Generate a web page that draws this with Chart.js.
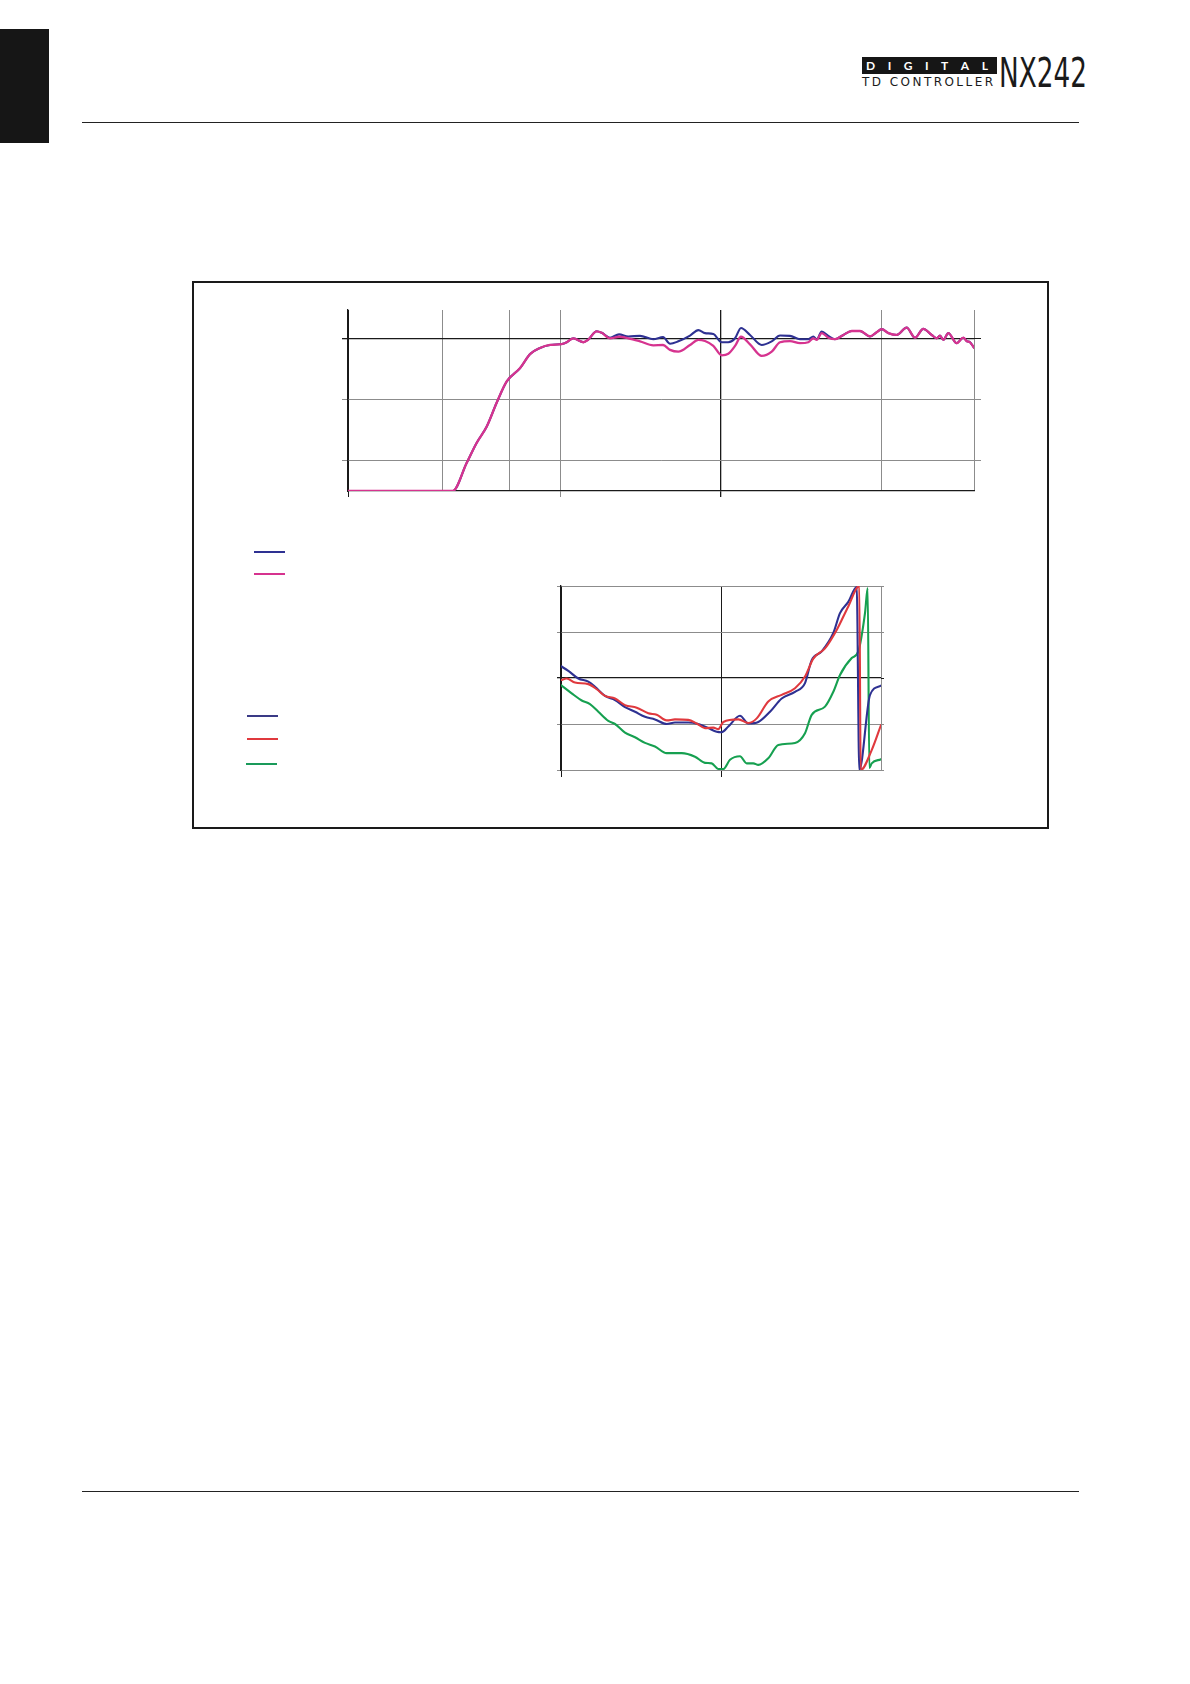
<!DOCTYPE html>
<html>
<head>
<meta charset="utf-8">
<script src="https://cdn.jsdelivr.net/npm/chart.js@4.4.0/dist/chart.umd.min.js"></script>
<style>
  body { margin: 0; background: #fff; }
  #page { position: relative; width: 1190px; height: 1684px; overflow: hidden; background: #fff; }
  .abs { position: absolute; }
  #digital { display: flex; justify-content: space-between; align-items: center; box-sizing: border-box;
             padding: 0 9px 0 4px; background: #161616; color: #fff;
             font: bold 12px/12px Lato, "DejaVu Sans", sans-serif; }
  #tdc { font: 12px/12px "DejaVu Sans", sans-serif; color: #1a1a1a; white-space: nowrap; }
  #nx { font: 40px/40px "Liberation Sans Narrow", "DejaVu Sans Condensed", sans-serif; color: #1a1a1a;
        white-space: nowrap; transform-origin: left top; }
</style>
</head>
<body>
<div id="page">
  <div class="abs" style="left:0;top:29px;width:49px;height:114px;background:#161616"></div>
  <div class="abs" style="left:82px;top:122px;width:997px;height:1px;background:#222"></div>
  <div class="abs" style="left:82px;top:1491px;width:997px;height:1px;background:#222"></div>

  <div id="digital" class="abs" style="left:862px;top:57px;width:135px;height:17px">
    <span>D</span><span>I</span><span>G</span><span>I</span><span>T</span><span>A</span><span>L</span>
  </div>
  <div id="tdc" class="abs" style="left:862px;top:76px">TD CONTROLLER</div>
  <div id="nx" class="abs" style="left:999px;top:53px">NX242</div>

  <div class="abs" style="left:192px;top:281px;width:853px;height:544px;border:2px solid #1a1a1a"></div>

  <div class="abs" style="left:254px;top:551px;width:31px;height:2px;background:#2e3192"></div>
  <div class="abs" style="left:254px;top:573px;width:31px;height:2px;background:#d6338f"></div>
  <div class="abs" style="left:247px;top:715px;width:31px;height:1.5px;background:#3a3a86"></div>
  <div class="abs" style="left:247px;top:738px;width:31px;height:2px;background:#e0393e"></div>
  <div class="abs" style="left:246px;top:763px;width:31px;height:1.5px;background:#1a9a5a"></div>

  <canvas id="topChart" class="abs" style="left:330px;top:300px" width="670" height="210"></canvas>
  <canvas id="bottomChart" class="abs" style="left:540px;top:570px" width="360" height="220"></canvas>
</div>
<script>
// top chart: magnitude, Hz / dB
const topMinHz = 4.74
const topMaxHz = 37700
const topGridHz = [4.74, 18.5, 48, 100, 1000, 10000, 37700]
const topGridDb = [-20, -10, 0]
const topHz = [4.74, 21.3, 26.0, 30.0, 34.7, 40.0, 46.2, 56.0, 64.6, 74.5, 86.0, 101.7, 109.3, 120.2, 138.7, 148.4,
    168.1, 180.6, 203.4, 231.5, 264.5, 312.9, 378.6, 435.1, 481.1, 542.0, 641.0, 722.2, 795.0, 895.4, 1010, 1110,
    1223, 1332, 1516, 1793, 2070, 2331, 2691, 3106, 3499, 3759, 3948, 4241, 4662, 5132, 5781, 6523, 7345, 8479,
    9335, 10030, 11030, 12440, 14350, 16170, 18210, 20550, 22080, 23150, 24270, 26080, 29410, 32330, 33950, 35600, 37700]
const topPinkDb = [-25, -25, -20.4, -17.1, -14.4, -10.5, -7.0, -4.8, -2.5, -1.5, -1.0, -0.85, -0.55, 0.1, -0.55, -0.15,
    1.25, 1.0, 0.1, 0.35, 0.1, -0.4, -1.05, -1.0, -1.8, -2.1, -1.0, -0.15, -0.35, -1.15, -2.7, -2.45,
    -1.15, 0.35, -0.9, -2.8, -2.1, -0.55, -0.35, -0.7, -0.55, 0.1, -0.15, 0.95, 0.2, -0.05, 0.65, 1.3, 1.3, 0.4,
    1.1, 1.6, 0.95, 0.65, 1.85, 0.2, 1.65, 0.65, 0.1, 0.55, -0.15, 0.95, -0.7, 0.2, -0.35, -0.55, -1.45]
const topBlueDb = [-25, -25, -20.4, -17.1, -14.4, -10.5, -7.0, -4.8, -2.5, -1.5, -1.0, -0.85, -0.55, 0.1, -0.55, -0.15,
    1.25, 1.0, 0.2, 0.75, 0.4, 0.5, -0.05, 0.3, -0.8, -0.4, 0.55, 1.45, 0.95, 0.8, -0.55, -0.55,
    0.1, 1.8, 0.65, -1.0, -0.4, 0.55, 0.5, -0.05, -0.05, 0.4, -0.05, 1.2, 0.5, -0.05, 0.65, 1.3, 1.3, 0.4,
    1.1, 1.6, 0.95, 0.65, 1.85, 0.2, 1.65, 0.65, 0.1, 0.55, -0.15, 0.95, -0.7, 0.2, -0.35, -0.55, -1.45]

// bottom chart: phase, Hz / degrees
const bottomGridHz = [100, 1000, 10000]
const bottomGridDeg = [-180, -90, 0, 90, 180]
const blueHz = [100, 111.1, 128.3, 148.1, 163.1, 188.4, 217.5, 251.2, 290.1, 335, 386.7, 457.7, 515.8, 624.6, 721.2,
    832.6, 940, 1010, 1111, 1314, 1481, 1711, 2025, 2395, 2901, 3350, 3689, 4261, 5035, 5543, 6246, 7050, 7318, 8538, 10000]
const blueDeg = [23, 14, -1, -7, -17, -35, -43, -57, -66, -76, -81, -90, -87, -87, -90,
    -98, -105, -106, -95, -74, -89, -86, -66, -40, -27, -10, 35, 52, 88, 127, 149, 178, -180, -33, -15]
const redHz = [100, 108.5, 122.3, 148.1, 167.2, 188.4, 217.5, 251.2, 297.3, 351.3, 396.3, 457.7, 515.8, 624.6, 704.9,
    794.3, 895.1, 962, 1034, 1283, 1481, 1672, 1975, 2395, 2901, 3350, 3775, 4467, 5286, 6246, 7318, 7466, 8748, 10000]
const redDeg = [-4, -1, -9, -12, -22, -35, -40, -53, -58, -69, -72, -83, -81, -82, -89,
    -98, -97, -100, -86, -81, -88, -79, -46, -33, -20, 3, 38, 58, 94, 140, 180, -180, -141, -92]
const greenHz = [100, 116.6, 134.7, 151.7, 171.1, 197.5, 217.5, 251.2, 290.1, 335, 386.7, 457.7, 568, 687.9, 794.3,
    874.8, 962, 1034, 1138, 1314, 1447, 1592, 1711, 1975, 2281, 2901, 3350, 3689, 4467, 5035, 5543, 6562, 7212,
    7943, 8258, 8450, 8748, 10000]
const greenDeg = [-14, -30, -44, -51, -66, -84, -90, -107, -116, -127, -134, -147, -147, -154, -166,
    -167, -178, -178, -160, -153, -167, -167, -170, -157, -131, -127, -108, -72, -56, -27, 6, 39, 52,
    127, 176, -176, -167, -159]

const BLACK = '#1a1a1a'
const GRAY = '#8c8c8c'
const CLEAR = 'rgba(0,0,0,0)'

// fit the logo texts to the widths they take in the page
function fitLetters(el, width) {
    const w = el.getBoundingClientRect().width
    const n = el.textContent.length - 1
    el.style.letterSpacing = ((width - w) / n) + 'px'
}
function fitScale(el, width) {
    const w = el.getBoundingClientRect().width
    el.style.transform = `scaleX(${width / w})`
}
fitLetters(document.getElementById('tdc'), 131)
fitScale(document.getElementById('nx'), 88)

const pts = (xs, ys) => xs.map((x, i) => ({x: x, y: ys[i]}))
const setTicks = vals => scale => { scale.ticks = vals.map(v => ({value: v})) }

const common = {
    responsive: false,
    animation: false,
    devicePixelRatio: 1,
    elements: {
        point: {radius: 0},
        line: {cubicInterpolationMode: 'monotone', borderJoinStyle: 'round', borderCapStyle: 'round'}
    },
    plugins: {legend: {display: false}, tooltip: {enabled: false}},
    events: []
}

new Chart(document.getElementById('topChart'), {
    type: 'line',
    data: {
        datasets: [
            {data: pts(topHz, topPinkDb), borderColor: '#d6338f', borderWidth: 2.3},
            {data: pts(topHz, topBlueDb), borderColor: '#2e3192', borderWidth: 2.1}
        ]
    },
    options: {
        ...common,
        layout: {padding: {left: 12, right: 19, top: 10, bottom: 13}, autoPadding: false},
        scales: {
            x: {
                type: 'logarithmic', min: topMinHz, max: topMaxHz,
                afterBuildTicks: setTicks(topGridHz),
                ticks: {display: false},
                grid: {
                    color: c => (c.tick.value === 1000 || c.tick.value === topMinHz) ? BLACK : GRAY,
                    lineWidth: c => c.tick.value === 1000 ? 1.3 : 1,
                    drawTicks: true, tickLength: 6,
                    tickColor: c => c.tick.value === 100 ? GRAY :
                        (c.tick.value === 1000 || c.tick.value === topMinHz) ? BLACK : CLEAR
                },
                border: {display: true, color: BLACK, width: 1.3}
            },
            y: {
                min: -25, max: 4.75,
                afterBuildTicks: setTicks(topGridDb),
                ticks: {display: false},
                grid: {
                    color: c => c.tick.value === 0 ? BLACK : GRAY,
                    lineWidth: c => c.tick.value === 0 ? 1.3 : 1,
                    drawTicks: true, tickLength: 6,
                    tickColor: c => c.tick.value === 0 ? BLACK : GRAY
                },
                border: {display: true, color: BLACK, width: 1.3}
            },
            yRight: {
                position: 'right', min: -25, max: 4.75,
                afterBuildTicks: setTicks(topGridDb),
                ticks: {display: false},
                grid: {
                    drawOnChartArea: false, drawTicks: true, tickLength: 7,
                    tickColor: c => c.tick.value === 0 ? BLACK : GRAY
                },
                border: {display: false}
            }
        }
    }
})

new Chart(document.getElementById('bottomChart'), {
    type: 'line',
    data: {
        datasets: [
            {data: pts(redHz, redDeg), borderColor: '#e0393e', borderWidth: 2.1},
            {data: pts(blueHz, blueDeg), borderColor: '#2e3192', borderWidth: 2.1},
            {data: pts(greenHz, greenDeg), borderColor: '#16a050', borderWidth: 2.1}
        ]
    },
    options: {
        ...common,
        layout: {padding: {left: 17, right: 16, top: 16, bottom: 13}, autoPadding: false},
        scales: {
            x: {
                type: 'logarithmic', min: 100, max: 10000,
                afterBuildTicks: setTicks(bottomGridHz),
                ticks: {display: false},
                grid: {
                    color: c => c.tick.value === 10000 ? GRAY : BLACK,
                    drawTicks: true, tickLength: 7,
                    tickColor: c => c.tick.value === 10000 ? CLEAR : BLACK
                },
                border: {display: false}
            },
            y: {
                min: -180, max: 180,
                afterBuildTicks: setTicks(bottomGridDeg),
                ticks: {display: false},
                grid: {
                    color: c => c.tick.value === 0 ? BLACK : GRAY,
                    lineWidth: c => c.tick.value === 0 ? 1.3 : 1,
                    drawTicks: true, tickLength: 4,
                    tickColor: c => c.tick.value === 0 ? BLACK : GRAY
                },
                border: {display: true, color: BLACK, width: 1.3}
            },
            yRight: {
                position: 'right', min: -180, max: 180,
                afterBuildTicks: setTicks(bottomGridDeg),
                ticks: {display: false},
                grid: {
                    drawOnChartArea: false, drawTicks: true, tickLength: 3,
                    tickColor: c => c.tick.value === 0 ? BLACK : GRAY
                },
                border: {display: false}
            }
        }
    }
})
</script>
</body>
</html>
